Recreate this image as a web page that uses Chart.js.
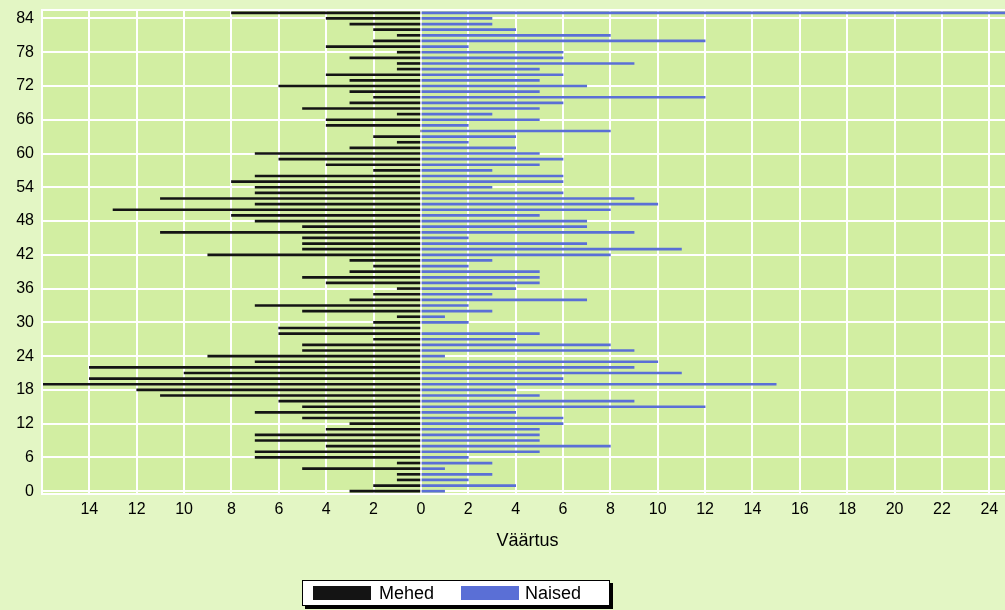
<!DOCTYPE html>
<html>
<head>
<meta charset="utf-8">
<script src="https://cdn.jsdelivr.net/npm/chart.js@4"></script>
<style>
  html, body { margin: 0; padding: 0; overflow: hidden; background: #e3f6c4; }
  #wrap { position: absolute; left: 0; top: 0; width: 1013px; height: 610px; }
</style>
</head>
<body>
<div id="wrap"><canvas id="myChart" width="1013" height="610"></canvas></div>
<script>
// vanused 0..85
var ages = [];
for (var a = 0; a <= 85; a++) ages.push(String(a));

// mehed, vanus 0..85
var mehed = [3, 2, 1, 1, 5, 1, 7, 7, 4, 7, 7, 4, 3, 5, 7, 5, 6, 11, 12, 16,
  14, 10, 14, 7, 9, 5, 5, 2, 6, 6, 2, 1, 5, 7, 3, 2, 1, 4, 5, 3,
  2, 3, 9, 5, 5, 5, 11, 5, 7, 8, 13, 7, 11, 7, 7, 8, 7, 2, 4, 6,
  7, 3, 1, 2, 0, 4, 4, 1, 5, 3, 2, 3, 6, 3, 4, 1, 1, 3, 1, 4,
  2, 1, 2, 3, 4, 8];

// naised, vanus 0..85
var naised = [1, 4, 2, 3, 1, 3, 2, 5, 8, 5, 5, 5, 6, 6, 4, 12, 9, 5, 4, 15,
  6, 11, 9, 10, 1, 9, 8, 4, 5, 0, 2, 1, 3, 2, 7, 3, 4, 5, 5, 5,
  2, 3, 8, 11, 7, 2, 9, 7, 7, 5, 8, 10, 9, 6, 3, 6, 6, 3, 5, 6,
  5, 4, 2, 4, 8, 2, 5, 3, 5, 6, 12, 5, 7, 5, 6, 5, 9, 6, 6, 2,
  12, 8, 4, 3, 3, 30];

var yTickStep = 6;
var xTicks = [-14, -12, -10, -8, -6, -4, -2, 0, 2, 4, 6, 8, 10, 12, 14, 16, 18, 20, 22, 24];

var font = "Liberation Sans, Arial, sans-serif";

var plotBg = {
  id: "plotBg",
  beforeDraw: function (chart) {
    var a = chart.chartArea, c = chart.ctx;
    c.save();
    c.fillStyle = "#d2eea2";
    c.fillRect(a.left, a.top, a.right - a.left, a.bottom - a.top);
    c.restore();
  },
  afterDatasetsDraw: function (chart) {
    var a = chart.chartArea, c = chart.ctx;
    c.save();
    c.strokeStyle = "#ffffff";
    c.lineWidth = 2;
    c.strokeRect(a.left, a.top, a.right - a.left, a.bottom - a.top);
    c.restore();
  },
  afterDraw: function (chart) {
    // legend raamiga ja varjuga
    var c = chart.ctx;
    var x0 = 302, y0 = 580, w = 308, h = 26;
    c.save();
    c.fillStyle = "#000";
    c.fillRect(x0 + 3, y0 + 3, w, h);
    c.fillStyle = "#fff";
    c.fillRect(x0, y0, w, h);
    c.strokeStyle = "#000";
    c.lineWidth = 1;
    c.strokeRect(x0 + 0.5, y0 + 0.5, w - 1, h - 1);
    c.font = "18px " + font;
    c.textBaseline = "middle";
    var sx = [313, 461], tx = [379, 525];
    chart.data.datasets.forEach(function (ds, i) {
      c.fillStyle = ds.backgroundColor;
      c.fillRect(sx[i], y0 + 6, 58, 14);
      c.fillStyle = "#000";
      c.fillText(ds.label, tx[i], y0 + 14);
    });
    c.restore();
  }
};

const ctx = document.getElementById("myChart").getContext("2d");
const myChart = new Chart(ctx, {
  type: "bar",
  data: {
    labels: ages,
    datasets: [
      {
        label: "Mehed",
        data: mehed.map(function (v) { return -v; }),
        backgroundColor: "#141414",
        borderWidth: 0,
        barThickness: 2,
      },
      {
        label: "Naised",
        data: naised,
        backgroundColor: "#5a6fd6",
        borderWidth: 0,
        barThickness: 2,
      },
    ],
  },
  options: {
    indexAxis: "y",
    responsive: false,
    devicePixelRatio: 1,
    animation: false,
    layout: { padding: { top: 10, right: 0, bottom: 56, left: 0 } },
    plugins: {
      legend: { display: false },
      tooltip: { enabled: false },
    },
    scales: {
      x: {
        type: "linear",
        stacked: true,
        min: -16,
        max: 25,
        afterBuildTicks: function (axis) {
          axis.ticks = [-16].concat(xTicks).map(function (v) { return { value: v }; });
        },
        afterFit: function (scale) { scale.height = 60; },
        grid: { color: "#ffffff", lineWidth: 2, drawTicks: false },
        border: { display: false },
        ticks: {
          color: "#000",
          font: { family: font, size: 16 },
          padding: 6,
          maxRotation: 0,
          callback: function (v) { return v === -16 ? "" : String(Math.abs(v)); },
        },
        title: {
          display: true,
          text: "Väärtus",
          color: "#000",
          font: { family: font, size: 18 },
          padding: { top: 4, bottom: 2 },
        },
      },
      y: {
        type: "category",
        stacked: true,
        reverse: true,
        offset: true,
        afterFit: function (scale) {
          scale.width = 42;
          scale.paddingTop = 0;
          scale.paddingBottom = 0;
        },
        grid: {
          offset: false,
          drawTicks: false,
          lineWidth: 2,
          color: function (c) { return c.index % yTickStep === 0 ? "#ffffff" : "rgba(0,0,0,0)"; },
        },
        border: { display: false },
        ticks: {
          autoSkip: false,
          color: "#000",
          font: { family: font, size: 16 },
          padding: 8,
          callback: function (v, i) { return i % yTickStep === 0 ? ages[i] : ""; },
        },
      },
    },
  },
  plugins: [plotBg],
});
</script>
</body>
</html>
